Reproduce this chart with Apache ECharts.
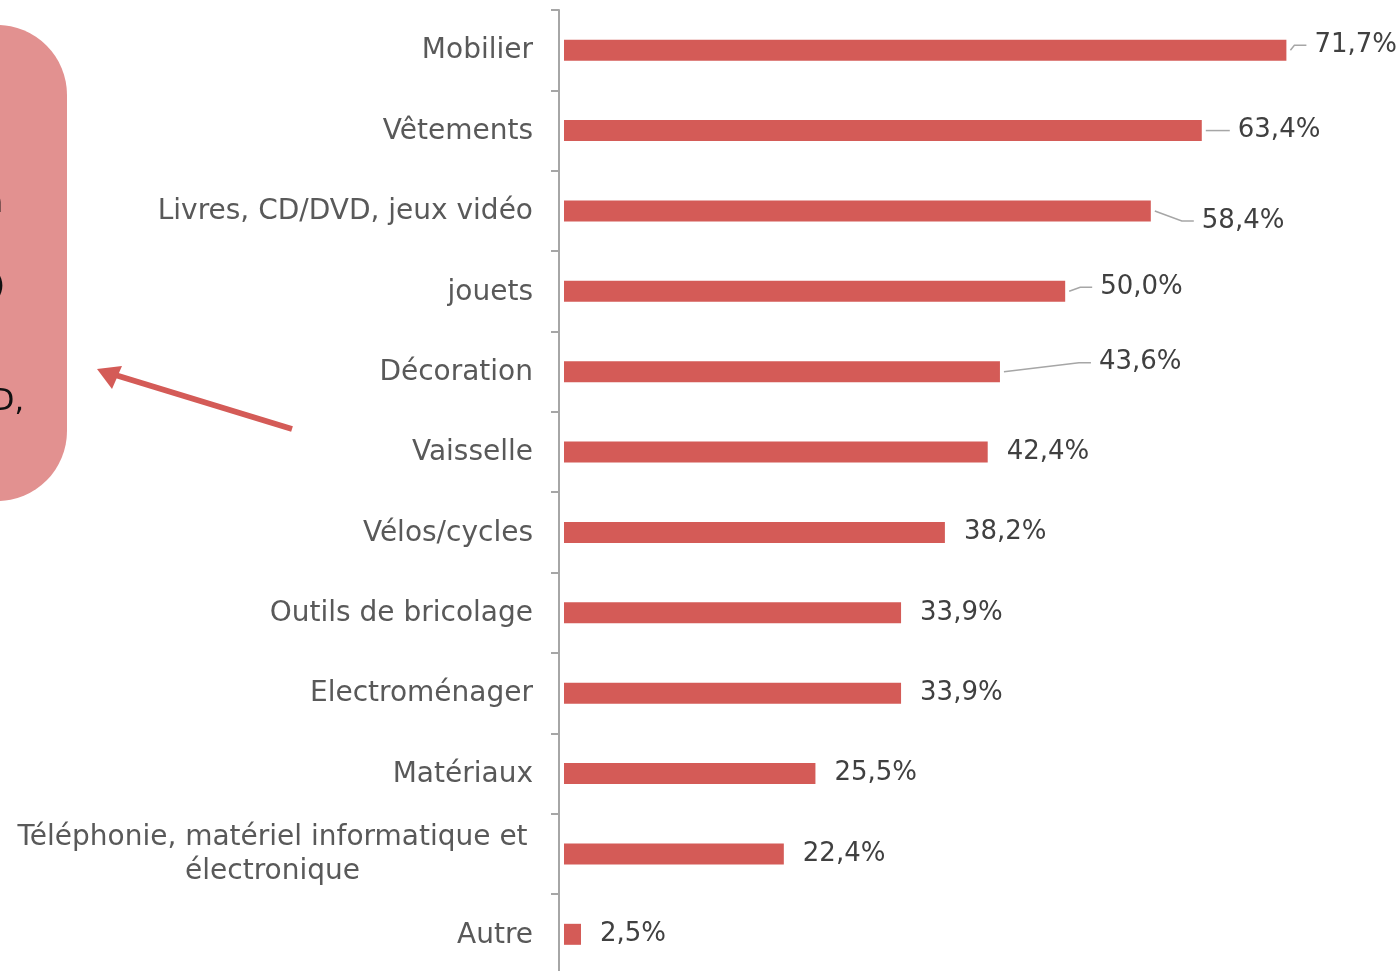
<!DOCTYPE html>
<html>
<head>
<meta charset="utf-8">
<script src="https://cdn.jsdelivr.net/npm/echarts@6/dist/echarts.min.js"></script>
<style>
html,body{margin:0;padding:0;background:#fff;}
#chart{width:1398px;height:971px;}
</style>
</head>
<body>
<div id="chart"></div>
<script>
// ---- data ----
var categories = [
  'Mobilier',
  'Vêtements',
  'Livres, CD/DVD, jeux vidéo',
  'jouets',
  'Décoration',
  'Vaisselle',
  'Vélos/cycles',
  'Outils de bricolage',
  'Electroménager',
  'Matériaux',
  'Téléphonie, matériel informatique et\nélectronique',
  'Autre'
];
var values = [71.7, 63.4, 58.4, 50.0, 43.6, 42.4, 38.2, 33.9, 33.9, 25.5, 22.4, 2.5];

// ---- styling ----
var barColor = '#D45B57';
var axisColor = '#A6A6A6';
var fontFam = '"DejaVu Sans", sans-serif';
var labelDist = 19;
// label displacement (px) for labels that carry a leader line
var labelShift = {0: [9, -5], 1: [17, 0], 2: [32, 10], 3: [16, -4], 4: [80, -9]};

var leaderData = [];
values.forEach(function (v, i) { if (labelShift[i]) leaderData.push([v, i]); });

var chart = echarts.init(document.getElementById('chart'), null, {renderer: 'canvas'});

chart.setOption({
  backgroundColor: '#ffffff',
  animation: false,
  grid: {left: 564, top: 10, bottom: -3.5, right: 27, outerBoundsMode: 'none', containLabel: false},
  xAxis: {
    type: 'value', min: 0.835, max: 80, show: false
  },
  yAxis: {
    type: 'category',
    inverse: true,
    data: categories,
    offset: 5,
    axisLine: {show: true, lineStyle: {color: axisColor, width: 2}},
    axisTick: {show: true, length: 8, lineStyle: {color: axisColor, width: 2}},
    splitLine: {show: false},
    axisLabel: {
      margin: 26,
      color: '#595959',
      fontFamily: fontFam,
      fontSize: 28,
      padding: [2, 0, 0, 0],
      formatter: function (v) {
        if (v.indexOf('\n') >= 0) {
          return v.split('\n').map(function (p) { return '{c|' + p + '}'; }).join('\n');
        }
        return v;
      },
      rich: {
        c: {width: 521, align: 'center', fontFamily: fontFam, fontSize: 28, color: '#595959', lineHeight: 34}
      }
    }
  },
  series: [{
    type: 'bar',
    data: values,
    barWidth: 21,
    clip: true,
    itemStyle: {color: barColor},
    label: {
      show: true,
      position: 'right',
      distance: labelDist,
      offset: [0, 2],
      color: '#404040',
      fontFamily: fontFam,
      fontSize: 26,
      formatter: function (p) { return p.value.toFixed(1).replace('.', ',') + '%'; }
    },
    labelLayout: function (p) {
      var s = labelShift[p.dataIndex];
      if (!s) return {};
      return {dx: s[0], dy: s[1]};
    }
  }, {
    type: 'custom',
    data: leaderData,
    clip: false,
    silent: true,
    renderItem: function (params, api) {
      var v = api.value(0), idx = api.value(1);
      var p = api.coord([v, idx]);
      var s = labelShift[idx];
      var lx = p[0] + labelDist + s[0];
      var ly = p[1] + s[1];
      return {
        type: 'polyline',
        shape: {points: [[p[0] + 4, p[1]], [lx - 20, ly], [lx - 8, ly]]},
        style: {stroke: axisColor, lineWidth: 1.5, fill: null}
      };
    }
  }],
  graphic: [
    {type: 'rect', shape: {x: -200, y: 25, width: 267, height: 476, r: 70}, style: {fill: '#E29190'}, z: 1},
    {type: 'text', style: {text: 'Les catégories les plus citées sont en', x: 3, y: 204, textAlign: 'right', textVerticalAlign: 'middle', fill: '#111', font: '30px ' + fontFam}, z: 2},
    {type: 'text', style: {text: 'le mobilier (71,7%)', x: 5, y: 287, textAlign: 'right', textVerticalAlign: 'middle', fill: '#111', font: '30px ' + fontFam}, z: 2},
    {type: 'text', style: {text: 'les livres, CD/DVD,', x: 24, y: 402, textAlign: 'right', textVerticalAlign: 'middle', fill: '#111', font: '30px ' + fontFam}, z: 2},
    {type: 'polyline', shape: {points: [[292, 429], [112, 374]]}, style: {stroke: barColor, lineWidth: 6, fill: null}, z: 3},
    {type: 'polygon', shape: {points: [[97, 369], [122, 366], [112, 389]]}, style: {fill: barColor}, z: 3}
  ]
});
</script>
</body>
</html>
